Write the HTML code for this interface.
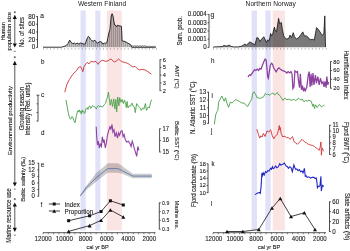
<!DOCTYPE html>
<html><head><meta charset="utf-8"><style>
html,body{margin:0;padding:0;background:#fff;width:350px;height:251px;overflow:hidden}
svg{display:block;will-change:transform}
.ttl text{stroke-width:0}
text{font-family:"Liberation Sans", sans-serif;stroke:#1a1a1a;stroke-width:0.1px}
</style></head><body>
<svg width="350" height="251" viewBox="0 0 350 251">
<rect width="350" height="251" fill="#fff"/>
<rect x="80.5" y="10.5" width="5.3" height="220" fill="#e1e1f8"/>
<rect x="95.3" y="10.5" width="5.1" height="220" fill="#e1e1f8"/>
<rect x="106.8" y="10.5" width="15.0" height="220" fill="#fbe4e4"/>
<rect x="251.6" y="10.5" width="5.4" height="220" fill="#e1e1f8"/>
<rect x="265.3" y="10.5" width="5.5" height="220" fill="#e1e1f8"/>
<rect x="272.7" y="10.5" width="12.1" height="220" fill="#fbe4e4"/>
<g class="ttl">
<text transform="translate(102 6) scale(0.9 1)" font-size="7.39" text-anchor="middle" fill="#1a1a1a">Western Finland</text>
<text transform="translate(270.7 6) scale(0.9 1)" font-size="7.39" text-anchor="middle" fill="#1a1a1a">Northern Norway</text>
</g>
<line x1="37.5" y1="16.2" x2="37.5" y2="47.699999999999996" stroke="#222" stroke-width="0.8"/>
<line x1="36.0" y1="16.5" x2="37.5" y2="16.5" stroke="#222" stroke-width="0.7"/>
<text transform="translate(35.3 18.5) scale(0.9 1)" font-size="7.06" text-anchor="end" fill="#1a1a1a">80</text>
<line x1="36.0" y1="24.225" x2="37.5" y2="24.225" stroke="#222" stroke-width="0.7"/>
<text transform="translate(35.3 26.225) scale(0.9 1)" font-size="7.06" text-anchor="end" fill="#1a1a1a">60</text>
<line x1="36.0" y1="31.95" x2="37.5" y2="31.95" stroke="#222" stroke-width="0.7"/>
<text transform="translate(35.3 33.95) scale(0.9 1)" font-size="7.06" text-anchor="end" fill="#1a1a1a">40</text>
<line x1="36.0" y1="39.675" x2="37.5" y2="39.675" stroke="#222" stroke-width="0.7"/>
<text transform="translate(35.3 41.675) scale(0.9 1)" font-size="7.06" text-anchor="end" fill="#1a1a1a">20</text>
<line x1="36.0" y1="47.4" x2="37.5" y2="47.4" stroke="#222" stroke-width="0.7"/>
<text transform="translate(35.3 49.4) scale(0.9 1)" font-size="7.06" text-anchor="end" fill="#1a1a1a">0</text>
<text transform="translate(40.2 18) scale(0.9 1)" font-size="7.39" text-anchor="start" fill="#1a1a1a">a</text>
<clipPath id="ha"><polygon points="43.0,47.2 61.4,47.2 63.6,46.5 65.7,45.9 67.9,43.7 69.7,40.1 71.1,42.3 72.9,43.7 74.3,43.0 75.7,44.0 77.1,43.0 78.9,44.0 80.7,43.0 82.9,43.7 84.0,44.2 85.3,43.8 87.1,38.5 88.4,36.3 89.3,37.2 90.6,39.4 91.9,40.7 93.2,41.2 95.0,40.3 96.3,42.0 97.6,43.4 98.9,42.0 100.7,41.6 102.0,42.5 102.9,44.2 104.2,42.9 105.5,43.4 106.8,42.9 107.7,38.5 109.0,32.4 109.9,29.8 111.2,16.0 112.1,13.7 113.0,16.0 114.0,22.0 114.7,25.0 116.0,25.5 116.8,26.8 117.6,25.3 119.5,25.8 121.4,26.3 121.8,33.0 122.1,41.0 124.0,41.2 126.0,42.0 128.0,43.2 130.0,44.3 131.0,45.2 132.0,47.2 155.5,47.2 155.5,47.3 43.0,47.3"/></clipPath>
<polygon points="43.0,47.2 61.4,47.2 63.6,46.5 65.7,45.9 67.9,43.7 69.7,40.1 71.1,42.3 72.9,43.7 74.3,43.0 75.7,44.0 77.1,43.0 78.9,44.0 80.7,43.0 82.9,43.7 84.0,44.2 85.3,43.8 87.1,38.5 88.4,36.3 89.3,37.2 90.6,39.4 91.9,40.7 93.2,41.2 95.0,40.3 96.3,42.0 97.6,43.4 98.9,42.0 100.7,41.6 102.0,42.5 102.9,44.2 104.2,42.9 105.5,43.4 106.8,42.9 107.7,38.5 109.0,32.4 109.9,29.8 111.2,16.0 112.1,13.7 113.0,16.0 114.0,22.0 114.7,25.0 116.0,25.5 116.8,26.8 117.6,25.3 119.5,25.8 121.4,26.3 121.8,33.0 122.1,41.0 124.0,41.2 126.0,42.0 128.0,43.2 130.0,44.3 131.0,45.2 132.0,47.2 155.5,47.2 155.5,47.3 43.0,47.3" fill="#000" fill-opacity="0.2"/>
<line x1="43.3" y1="10" x2="43.3" y2="47.3" stroke="#000" stroke-opacity="0.6" stroke-width="0.45" clip-path="url(#ha)"/>
<line x1="45.3" y1="10" x2="45.3" y2="47.3" stroke="#000" stroke-opacity="0.6" stroke-width="0.45" clip-path="url(#ha)"/>
<line x1="47.3" y1="10" x2="47.3" y2="47.3" stroke="#000" stroke-opacity="0.6" stroke-width="0.45" clip-path="url(#ha)"/>
<line x1="49.3" y1="10" x2="49.3" y2="47.3" stroke="#000" stroke-opacity="0.6" stroke-width="0.45" clip-path="url(#ha)"/>
<line x1="51.3" y1="10" x2="51.3" y2="47.3" stroke="#000" stroke-opacity="0.6" stroke-width="0.45" clip-path="url(#ha)"/>
<line x1="53.3" y1="10" x2="53.3" y2="47.3" stroke="#000" stroke-opacity="0.6" stroke-width="0.45" clip-path="url(#ha)"/>
<line x1="55.3" y1="10" x2="55.3" y2="47.3" stroke="#000" stroke-opacity="0.6" stroke-width="0.45" clip-path="url(#ha)"/>
<line x1="57.3" y1="10" x2="57.3" y2="47.3" stroke="#000" stroke-opacity="0.6" stroke-width="0.45" clip-path="url(#ha)"/>
<line x1="59.3" y1="10" x2="59.3" y2="47.3" stroke="#000" stroke-opacity="0.6" stroke-width="0.45" clip-path="url(#ha)"/>
<line x1="61.3" y1="10" x2="61.3" y2="47.3" stroke="#000" stroke-opacity="0.6" stroke-width="0.45" clip-path="url(#ha)"/>
<line x1="63.3" y1="10" x2="63.3" y2="47.3" stroke="#000" stroke-opacity="0.6" stroke-width="0.45" clip-path="url(#ha)"/>
<line x1="65.3" y1="10" x2="65.3" y2="47.3" stroke="#000" stroke-opacity="0.6" stroke-width="0.45" clip-path="url(#ha)"/>
<line x1="67.3" y1="10" x2="67.3" y2="47.3" stroke="#000" stroke-opacity="0.6" stroke-width="0.45" clip-path="url(#ha)"/>
<line x1="69.3" y1="10" x2="69.3" y2="47.3" stroke="#000" stroke-opacity="0.6" stroke-width="0.45" clip-path="url(#ha)"/>
<line x1="71.3" y1="10" x2="71.3" y2="47.3" stroke="#000" stroke-opacity="0.6" stroke-width="0.45" clip-path="url(#ha)"/>
<line x1="73.3" y1="10" x2="73.3" y2="47.3" stroke="#000" stroke-opacity="0.6" stroke-width="0.45" clip-path="url(#ha)"/>
<line x1="75.3" y1="10" x2="75.3" y2="47.3" stroke="#000" stroke-opacity="0.6" stroke-width="0.45" clip-path="url(#ha)"/>
<line x1="77.3" y1="10" x2="77.3" y2="47.3" stroke="#000" stroke-opacity="0.6" stroke-width="0.45" clip-path="url(#ha)"/>
<line x1="79.3" y1="10" x2="79.3" y2="47.3" stroke="#000" stroke-opacity="0.6" stroke-width="0.45" clip-path="url(#ha)"/>
<line x1="81.3" y1="10" x2="81.3" y2="47.3" stroke="#000" stroke-opacity="0.6" stroke-width="0.45" clip-path="url(#ha)"/>
<line x1="83.3" y1="10" x2="83.3" y2="47.3" stroke="#000" stroke-opacity="0.6" stroke-width="0.45" clip-path="url(#ha)"/>
<line x1="85.3" y1="10" x2="85.3" y2="47.3" stroke="#000" stroke-opacity="0.6" stroke-width="0.45" clip-path="url(#ha)"/>
<line x1="87.3" y1="10" x2="87.3" y2="47.3" stroke="#000" stroke-opacity="0.6" stroke-width="0.45" clip-path="url(#ha)"/>
<line x1="89.3" y1="10" x2="89.3" y2="47.3" stroke="#000" stroke-opacity="0.6" stroke-width="0.45" clip-path="url(#ha)"/>
<line x1="91.3" y1="10" x2="91.3" y2="47.3" stroke="#000" stroke-opacity="0.6" stroke-width="0.45" clip-path="url(#ha)"/>
<line x1="93.3" y1="10" x2="93.3" y2="47.3" stroke="#000" stroke-opacity="0.6" stroke-width="0.45" clip-path="url(#ha)"/>
<line x1="95.3" y1="10" x2="95.3" y2="47.3" stroke="#000" stroke-opacity="0.6" stroke-width="0.45" clip-path="url(#ha)"/>
<line x1="97.3" y1="10" x2="97.3" y2="47.3" stroke="#000" stroke-opacity="0.6" stroke-width="0.45" clip-path="url(#ha)"/>
<line x1="99.3" y1="10" x2="99.3" y2="47.3" stroke="#000" stroke-opacity="0.6" stroke-width="0.45" clip-path="url(#ha)"/>
<line x1="101.3" y1="10" x2="101.3" y2="47.3" stroke="#000" stroke-opacity="0.6" stroke-width="0.45" clip-path="url(#ha)"/>
<line x1="103.3" y1="10" x2="103.3" y2="47.3" stroke="#000" stroke-opacity="0.6" stroke-width="0.45" clip-path="url(#ha)"/>
<line x1="105.3" y1="10" x2="105.3" y2="47.3" stroke="#000" stroke-opacity="0.6" stroke-width="0.45" clip-path="url(#ha)"/>
<line x1="107.3" y1="10" x2="107.3" y2="47.3" stroke="#000" stroke-opacity="0.6" stroke-width="0.45" clip-path="url(#ha)"/>
<line x1="109.3" y1="10" x2="109.3" y2="47.3" stroke="#000" stroke-opacity="0.6" stroke-width="0.45" clip-path="url(#ha)"/>
<line x1="111.3" y1="10" x2="111.3" y2="47.3" stroke="#000" stroke-opacity="0.6" stroke-width="0.45" clip-path="url(#ha)"/>
<line x1="113.3" y1="10" x2="113.3" y2="47.3" stroke="#000" stroke-opacity="0.6" stroke-width="0.45" clip-path="url(#ha)"/>
<line x1="115.3" y1="10" x2="115.3" y2="47.3" stroke="#000" stroke-opacity="0.6" stroke-width="0.45" clip-path="url(#ha)"/>
<line x1="117.3" y1="10" x2="117.3" y2="47.3" stroke="#000" stroke-opacity="0.6" stroke-width="0.45" clip-path="url(#ha)"/>
<line x1="119.3" y1="10" x2="119.3" y2="47.3" stroke="#000" stroke-opacity="0.6" stroke-width="0.45" clip-path="url(#ha)"/>
<line x1="121.3" y1="10" x2="121.3" y2="47.3" stroke="#000" stroke-opacity="0.6" stroke-width="0.45" clip-path="url(#ha)"/>
<line x1="123.3" y1="10" x2="123.3" y2="47.3" stroke="#000" stroke-opacity="0.6" stroke-width="0.45" clip-path="url(#ha)"/>
<line x1="125.3" y1="10" x2="125.3" y2="47.3" stroke="#000" stroke-opacity="0.6" stroke-width="0.45" clip-path="url(#ha)"/>
<line x1="127.3" y1="10" x2="127.3" y2="47.3" stroke="#000" stroke-opacity="0.6" stroke-width="0.45" clip-path="url(#ha)"/>
<line x1="129.3" y1="10" x2="129.3" y2="47.3" stroke="#000" stroke-opacity="0.6" stroke-width="0.45" clip-path="url(#ha)"/>
<line x1="131.3" y1="10" x2="131.3" y2="47.3" stroke="#000" stroke-opacity="0.6" stroke-width="0.45" clip-path="url(#ha)"/>
<line x1="133.3" y1="10" x2="133.3" y2="47.3" stroke="#000" stroke-opacity="0.6" stroke-width="0.45" clip-path="url(#ha)"/>
<line x1="135.3" y1="10" x2="135.3" y2="47.3" stroke="#000" stroke-opacity="0.6" stroke-width="0.45" clip-path="url(#ha)"/>
<line x1="137.3" y1="10" x2="137.3" y2="47.3" stroke="#000" stroke-opacity="0.6" stroke-width="0.45" clip-path="url(#ha)"/>
<line x1="139.3" y1="10" x2="139.3" y2="47.3" stroke="#000" stroke-opacity="0.6" stroke-width="0.45" clip-path="url(#ha)"/>
<line x1="141.3" y1="10" x2="141.3" y2="47.3" stroke="#000" stroke-opacity="0.6" stroke-width="0.45" clip-path="url(#ha)"/>
<line x1="143.3" y1="10" x2="143.3" y2="47.3" stroke="#000" stroke-opacity="0.6" stroke-width="0.45" clip-path="url(#ha)"/>
<line x1="145.3" y1="10" x2="145.3" y2="47.3" stroke="#000" stroke-opacity="0.6" stroke-width="0.45" clip-path="url(#ha)"/>
<line x1="147.3" y1="10" x2="147.3" y2="47.3" stroke="#000" stroke-opacity="0.6" stroke-width="0.45" clip-path="url(#ha)"/>
<line x1="149.3" y1="10" x2="149.3" y2="47.3" stroke="#000" stroke-opacity="0.6" stroke-width="0.45" clip-path="url(#ha)"/>
<line x1="151.3" y1="10" x2="151.3" y2="47.3" stroke="#000" stroke-opacity="0.6" stroke-width="0.45" clip-path="url(#ha)"/>
<line x1="153.3" y1="10" x2="153.3" y2="47.3" stroke="#000" stroke-opacity="0.6" stroke-width="0.45" clip-path="url(#ha)"/>
<line x1="155.3" y1="10" x2="155.3" y2="47.3" stroke="#000" stroke-opacity="0.6" stroke-width="0.45" clip-path="url(#ha)"/>
<polyline points="43.0,47.2 61.4,47.2 63.6,46.5 65.7,45.9 67.9,43.7 69.7,40.1 71.1,42.3 72.9,43.7 74.3,43.0 75.7,44.0 77.1,43.0 78.9,44.0 80.7,43.0 82.9,43.7 84.0,44.2 85.3,43.8 87.1,38.5 88.4,36.3 89.3,37.2 90.6,39.4 91.9,40.7 93.2,41.2 95.0,40.3 96.3,42.0 97.6,43.4 98.9,42.0 100.7,41.6 102.0,42.5 102.9,44.2 104.2,42.9 105.5,43.4 106.8,42.9 107.7,38.5 109.0,32.4 109.9,29.8 111.2,16.0 112.1,13.7 113.0,16.0 114.0,22.0 114.7,25.0 116.0,25.5 116.8,26.8 117.6,25.3 119.5,25.8 121.4,26.3 121.8,33.0 122.1,41.0 124.0,41.2 126.0,42.0 128.0,43.2 130.0,44.3 131.0,45.2 132.0,47.2 155.5,47.2" fill="none" stroke="#111" stroke-width="0.85"/>
<rect x="131.20" y="45.50" width="2.1" height="2.3" rx="0.9" fill="none" stroke="#444" stroke-width="0.5"/>
<rect x="133.70" y="45.50" width="2.1" height="2.3" rx="0.9" fill="none" stroke="#444" stroke-width="0.5"/>
<rect x="136.20" y="45.50" width="2.1" height="2.3" rx="0.9" fill="none" stroke="#444" stroke-width="0.5"/>
<rect x="138.70" y="45.50" width="2.1" height="2.3" rx="0.9" fill="none" stroke="#444" stroke-width="0.5"/>
<rect x="141.20" y="45.50" width="2.1" height="2.3" rx="0.9" fill="none" stroke="#444" stroke-width="0.5"/>
<rect x="143.70" y="45.50" width="2.1" height="2.3" rx="0.9" fill="none" stroke="#444" stroke-width="0.5"/>
<rect x="146.20" y="46.20" width="2.1" height="1.6" rx="0.9" fill="none" stroke="#444" stroke-width="0.5"/>
<rect x="148.70" y="46.20" width="2.1" height="1.6" rx="0.9" fill="none" stroke="#444" stroke-width="0.5"/>
<rect x="151.20" y="46.20" width="2.1" height="1.6" rx="0.9" fill="none" stroke="#444" stroke-width="0.5"/>
<rect x="153.70" y="46.20" width="2.1" height="1.6" rx="0.9" fill="none" stroke="#444" stroke-width="0.5"/>
<line x1="43.50" y1="48.2" x2="43.50" y2="49.5" stroke="#555" stroke-width="0.5"/>
<line x1="47.03" y1="48.2" x2="47.03" y2="49.5" stroke="#555" stroke-width="0.5"/>
<line x1="50.56" y1="48.2" x2="50.56" y2="49.5" stroke="#555" stroke-width="0.5"/>
<line x1="54.09" y1="48.2" x2="54.09" y2="49.5" stroke="#555" stroke-width="0.5"/>
<line x1="57.62" y1="48.2" x2="57.62" y2="49.5" stroke="#555" stroke-width="0.5"/>
<line x1="61.15" y1="48.2" x2="61.15" y2="49.5" stroke="#555" stroke-width="0.5"/>
<line x1="64.68" y1="48.2" x2="64.68" y2="49.5" stroke="#555" stroke-width="0.5"/>
<line x1="68.21" y1="48.2" x2="68.21" y2="49.5" stroke="#555" stroke-width="0.5"/>
<line x1="71.74" y1="48.2" x2="71.74" y2="49.5" stroke="#555" stroke-width="0.5"/>
<line x1="75.27" y1="48.2" x2="75.27" y2="49.5" stroke="#555" stroke-width="0.5"/>
<line x1="78.80" y1="48.2" x2="78.80" y2="49.5" stroke="#555" stroke-width="0.5"/>
<line x1="82.33" y1="48.2" x2="82.33" y2="49.5" stroke="#555" stroke-width="0.5"/>
<line x1="85.86" y1="48.2" x2="85.86" y2="49.5" stroke="#555" stroke-width="0.5"/>
<line x1="89.39" y1="48.2" x2="89.39" y2="49.5" stroke="#555" stroke-width="0.5"/>
<line x1="92.92" y1="48.2" x2="92.92" y2="49.5" stroke="#555" stroke-width="0.5"/>
<line x1="96.45" y1="48.2" x2="96.45" y2="49.5" stroke="#555" stroke-width="0.5"/>
<line x1="99.98" y1="48.2" x2="99.98" y2="49.5" stroke="#555" stroke-width="0.5"/>
<line x1="103.51" y1="48.2" x2="103.51" y2="49.5" stroke="#555" stroke-width="0.5"/>
<line x1="107.04" y1="48.2" x2="107.04" y2="49.5" stroke="#555" stroke-width="0.5"/>
<line x1="110.57" y1="48.2" x2="110.57" y2="49.5" stroke="#555" stroke-width="0.5"/>
<line x1="114.10" y1="48.2" x2="114.10" y2="49.5" stroke="#555" stroke-width="0.5"/>
<line x1="117.63" y1="48.2" x2="117.63" y2="49.5" stroke="#555" stroke-width="0.5"/>
<line x1="121.16" y1="48.2" x2="121.16" y2="49.5" stroke="#555" stroke-width="0.5"/>
<line x1="124.69" y1="48.2" x2="124.69" y2="49.5" stroke="#555" stroke-width="0.5"/>
<line x1="128.22" y1="48.2" x2="128.22" y2="49.5" stroke="#555" stroke-width="0.5"/>
<line x1="131.75" y1="48.2" x2="131.75" y2="49.5" stroke="#555" stroke-width="0.5"/>
<line x1="135.28" y1="48.2" x2="135.28" y2="49.5" stroke="#555" stroke-width="0.5"/>
<line x1="138.81" y1="48.2" x2="138.81" y2="49.5" stroke="#555" stroke-width="0.5"/>
<line x1="142.34" y1="48.2" x2="142.34" y2="49.5" stroke="#555" stroke-width="0.5"/>
<line x1="145.87" y1="48.2" x2="145.87" y2="49.5" stroke="#555" stroke-width="0.5"/>
<line x1="149.40" y1="48.2" x2="149.40" y2="49.5" stroke="#555" stroke-width="0.5"/>
<line x1="152.93" y1="48.2" x2="152.93" y2="49.5" stroke="#555" stroke-width="0.5"/>
<line x1="156.46" y1="48.2" x2="156.46" y2="49.5" stroke="#555" stroke-width="0.5"/>
<line x1="160" y1="59.300000000000004" x2="160" y2="91.0" stroke="#222" stroke-width="0.8"/>
<line x1="160" y1="59.6" x2="161.5" y2="59.6" stroke="#222" stroke-width="0.7"/>
<text transform="translate(162.8 61.6) scale(0.9 1)" font-size="6.27" text-anchor="start" fill="#1a1a1a">6</text>
<line x1="160" y1="67.375" x2="161.5" y2="67.375" stroke="#222" stroke-width="0.7"/>
<text transform="translate(162.8 69.375) scale(0.9 1)" font-size="6.27" text-anchor="start" fill="#1a1a1a">5</text>
<line x1="160" y1="75.15" x2="161.5" y2="75.15" stroke="#222" stroke-width="0.7"/>
<text transform="translate(162.8 77.15) scale(0.9 1)" font-size="6.27" text-anchor="start" fill="#1a1a1a">4</text>
<line x1="160" y1="82.92500000000001" x2="161.5" y2="82.92500000000001" stroke="#222" stroke-width="0.7"/>
<text transform="translate(162.8 84.92500000000001) scale(0.9 1)" font-size="6.27" text-anchor="start" fill="#1a1a1a">3</text>
<line x1="160" y1="90.7" x2="161.5" y2="90.7" stroke="#222" stroke-width="0.7"/>
<text transform="translate(162.8 92.7) scale(0.9 1)" font-size="6.27" text-anchor="start" fill="#1a1a1a">2</text>
<text transform="translate(41 64) scale(0.9 1)" font-size="6.94" text-anchor="start" fill="#1a1a1a">b</text>
<polyline points="64.8,92.2 66.8,84.5 69.4,79.4 72.8,74.3 76.3,70.8 78.8,67.1 80.5,66.6 81.9,69.1 82.8,71.7 84.0,66.6 85.7,64.0 87.4,62.3 88.8,64.0 90.8,61.4 93.4,61.9 96.0,61.4 98.0,64.3 100.2,61.4 102.8,60.2 105.0,61.3 107.9,60.9 111.0,58.9 112.9,60.9 114.7,62.0 116.4,60.9 118.6,59.1 120.7,60.9 122.9,62.0 125.7,62.7 127.9,63.4 130.7,65.6 132.9,67.0 135.0,66.3 137.1,68.4 139.3,69.9 142.1,69.4 145.0,69.9 147.9,71.7 151.4,74.1" fill="none" stroke="#cf3d3d" stroke-width="0.95"/>
<text transform="translate(175.3 65.4) rotate(90) scale(1 1.06)" font-size="5.60" text-anchor="start" fill="#1a1a1a">AMT (°C)</text>
<line x1="38" y1="94.9" x2="38" y2="121.39999999999999" stroke="#222" stroke-width="0.8"/>
<line x1="36.5" y1="95.2" x2="38" y2="95.2" stroke="#222" stroke-width="0.7"/>
<line x1="36.5" y1="103.83333333333333" x2="38" y2="103.83333333333333" stroke="#222" stroke-width="0.7"/>
<line x1="36.5" y1="112.46666666666667" x2="38" y2="112.46666666666667" stroke="#222" stroke-width="0.7"/>
<line x1="36.5" y1="121.1" x2="38" y2="121.1" stroke="#222" stroke-width="0.7"/>
<line x1="38" y1="95.2" x2="39.5" y2="95.2" stroke="#222" stroke-width="0.6"/>
<text transform="translate(40.9 97) scale(0.9 1)" font-size="7.39" text-anchor="start" fill="#1a1a1a">c</text>
<polyline points="66.0,99.9 67.1,106.3 68.3,112.7 69.3,117.0 70.3,119.1 71.4,118.4 72.1,116.5 72.9,117.7 74.0,120.6 75.0,122.7 76.4,115.6 77.9,110.6 78.6,112.0 79.3,109.9 80.2,112.5 80.7,111.3 81.4,114.1 82.1,109.9 82.8,112.0 83.6,111.3 84.3,113.5 85.0,112.7 85.7,109.1 87.1,107.7 88.0,109.5 88.6,108.4 89.3,106.0 90.0,106.3 90.7,108.5 91.4,107.7 92.5,105.5 93.6,106.3 95.0,107.0 96.4,109.1 97.4,106.3 98.6,105.6 99.6,106.8 100.0,105.9 102.4,107.1 104.2,104.7 105.4,103.5 106.6,99.4 107.4,97.6 108.4,92.2 109.3,98.8 110.2,105.3 111.4,99.4 112.5,106.5 113.7,98.8 114.9,108.9 115.8,99.4 116.7,111.9 117.7,97.0 118.9,105.9 119.7,97.6 120.9,102.3 122.1,99.4 123.3,103.5 124.5,99.9 125.7,104.7 126.3,107.5 127.1,101.4 128.0,107.9 129.3,105.7 130.6,106.1 130.6,106.1 131.9,103.1 133.1,106.1 134.4,107.0 135.3,112.6 136.6,103.6 138.3,106.1 139.6,107.4 141.3,110.4 142.6,107.9 143.9,109.1 145.4,103.6 146.4,110.4 148.1,107.0 149.4,107.9 150.7,101.9 151.6,99.7" fill="none" stroke="#46a046" stroke-width="0.9"/>
<line x1="159.6" y1="128.5" x2="159.6" y2="152.3" stroke="#222" stroke-width="0.8"/>
<line x1="159.6" y1="128.8" x2="161.1" y2="128.8" stroke="#222" stroke-width="0.7"/>
<text transform="translate(162.4 130.8) scale(0.9 1)" font-size="6.50" text-anchor="start" fill="#1a1a1a">17</text>
<line x1="159.6" y1="140.4" x2="161.1" y2="140.4" stroke="#222" stroke-width="0.7"/>
<text transform="translate(162.4 142.4) scale(0.9 1)" font-size="6.50" text-anchor="start" fill="#1a1a1a">16</text>
<line x1="159.6" y1="152.0" x2="161.1" y2="152.0" stroke="#222" stroke-width="0.7"/>
<text transform="translate(162.4 154.0) scale(0.9 1)" font-size="6.50" text-anchor="start" fill="#1a1a1a">15</text>
<text transform="translate(41 135) scale(0.9 1)" font-size="6.94" text-anchor="start" fill="#1a1a1a">d</text>
<polyline points="96.2,126.8 96.8,138.2 97.5,145.0 98.4,141.2 99.3,148.0 100.3,144.2 101.4,146.5 102.3,136.7 103.4,142.7 104.1,139.7 105.3,148.0 106.4,142.7 107.5,135.2 108.7,130.6 109.9,126.8 110.9,129.1 112.0,124.5 112.9,132.1 114.0,129.8 115.0,136.7 116.2,132.9 117.5,138.2 118.5,132.9 119.6,135.2 120.8,131.4 122.0,130.6 123.1,136.7 124.1,134.4 125.3,139.7 126.8,142.0 128.4,141.2 129.9,143.5 131.1,146.5 132.2,141.2 133.2,144.2 134.4,148.8 135.6,152.6 136.7,156.4 137.8,146.5 139.0,150.3" fill="none" stroke="#9042a2" stroke-width="1.1"/>
<text transform="translate(174.8 121) rotate(90) scale(1 1.06)" font-size="5.90" text-anchor="start" fill="#1a1a1a">Baltic SST (°C)</text>
<line x1="38.7" y1="162.89999999999998" x2="38.7" y2="196.5" stroke="#222" stroke-width="0.8"/>
<line x1="37.2" y1="163.2" x2="38.7" y2="163.2" stroke="#222" stroke-width="0.7"/>
<text transform="translate(34.900000000000006 165.2) scale(0.9 1)" font-size="6.72" text-anchor="end" fill="#1a1a1a">15</text>
<line x1="37.2" y1="169.79999999999998" x2="38.7" y2="169.79999999999998" stroke="#222" stroke-width="0.7"/>
<text transform="translate(34.900000000000006 171.79999999999998) scale(0.9 1)" font-size="6.72" text-anchor="end" fill="#1a1a1a">12</text>
<line x1="37.2" y1="176.39999999999998" x2="38.7" y2="176.39999999999998" stroke="#222" stroke-width="0.7"/>
<text transform="translate(34.900000000000006 178.39999999999998) scale(0.9 1)" font-size="6.72" text-anchor="end" fill="#1a1a1a">9</text>
<line x1="37.2" y1="183.0" x2="38.7" y2="183.0" stroke="#222" stroke-width="0.7"/>
<text transform="translate(34.900000000000006 185.0) scale(0.9 1)" font-size="6.72" text-anchor="end" fill="#1a1a1a">6</text>
<line x1="37.2" y1="189.6" x2="38.7" y2="189.6" stroke="#222" stroke-width="0.7"/>
<text transform="translate(34.900000000000006 191.6) scale(0.9 1)" font-size="6.72" text-anchor="end" fill="#1a1a1a">3</text>
<line x1="37.2" y1="196.2" x2="38.7" y2="196.2" stroke="#222" stroke-width="0.7"/>
<text transform="translate(34.900000000000006 198.2) scale(0.9 1)" font-size="6.72" text-anchor="end" fill="#1a1a1a">0</text>
<text transform="translate(40.8 166.5) scale(0.9 1)" font-size="7.39" text-anchor="start" fill="#1a1a1a">e</text>
<polygon points="80.3,195.5 86.0,186.3 96.3,172.9 102.0,168.3 107.7,163.2 118.0,163.2 121.4,165.5 132.9,173.8 151.4,173.8 152.0,175.0 152.0,177.8 151.4,178.3 132.9,178.3 121.4,173.5 118.0,172.8 107.7,172.8 96.3,181.5 86.0,190.5 80.3,196.8" fill="#000" fill-opacity="0.2"/>
<polyline points="80.3,195.7 86.0,187.9 96.3,177.6 107.7,168.6 118.0,168.6 132.9,176.1 151.5,176.1" fill="none" stroke="#5676a6" stroke-width="0.85"/>
<line x1="159.3" y1="202.5" x2="159.3" y2="229.5" stroke="#222" stroke-width="0.8"/>
<line x1="159.3" y1="202.8" x2="160.8" y2="202.8" stroke="#222" stroke-width="0.7"/>
<text transform="translate(162.10000000000002 204.8) scale(0.9 1)" font-size="5.71" text-anchor="start" fill="#1a1a1a">0.9</text>
<line x1="159.3" y1="211.6" x2="160.8" y2="211.6" stroke="#222" stroke-width="0.7"/>
<text transform="translate(162.10000000000002 213.6) scale(0.9 1)" font-size="5.71" text-anchor="start" fill="#1a1a1a">0.7</text>
<line x1="159.3" y1="220.4" x2="160.8" y2="220.4" stroke="#222" stroke-width="0.7"/>
<text transform="translate(162.10000000000002 222.4) scale(0.9 1)" font-size="5.71" text-anchor="start" fill="#1a1a1a">0.5</text>
<line x1="159.3" y1="229.2" x2="160.8" y2="229.2" stroke="#222" stroke-width="0.7"/>
<text transform="translate(162.10000000000002 231.2) scale(0.9 1)" font-size="5.71" text-anchor="start" fill="#1a1a1a">0.3</text>
<text transform="translate(40.6 207) scale(0.9 1)" font-size="6.94" text-anchor="start" fill="#1a1a1a">f</text>
<polyline points="68.6,220.7 89.6,215.8 101.1,211.5 110.4,200.8 123.3,205.0" fill="none" stroke="#111" stroke-width="0.8"/>
<polyline points="68.6,231.4 89.6,225.6 101.1,220.3 110.4,210.0 123.3,217.0" fill="none" stroke="#111" stroke-width="0.8"/>
<rect x="67.1" y="219.2" width="3.0" height="3.0" fill="#111"/>
<rect x="88.1" y="214.3" width="3.0" height="3.0" fill="#111"/>
<rect x="99.6" y="210.0" width="3.0" height="3.0" fill="#111"/>
<rect x="108.9" y="199.3" width="3.0" height="3.0" fill="#111"/>
<rect x="121.8" y="203.5" width="3.0" height="3.0" fill="#111"/>
<polygon points="66.6,233.2 70.6,233.2 68.6,229.6" fill="#111"/>
<polygon points="87.6,227.4 91.6,227.4 89.6,223.8" fill="#111"/>
<polygon points="99.1,222.1 103.1,222.1 101.1,218.5" fill="#111"/>
<polygon points="108.4,211.8 112.4,211.8 110.4,208.2" fill="#111"/>
<polygon points="121.3,218.8 125.3,218.8 123.3,215.2" fill="#111"/>
<line x1="48.9" y1="204" x2="60" y2="204" stroke="#111" stroke-width="0.8"/>
<rect x="52.7" y="202.5" width="3.0" height="3.0" fill="#111"/>
<line x1="48.9" y1="211" x2="60" y2="211" stroke="#111" stroke-width="0.8"/>
<polygon points="52.2,212.8 56.2,212.8 54.2,209.2" fill="#111"/>
<text transform="translate(64.5 207) scale(0.9 1)" font-size="6.94" text-anchor="start" fill="#1a1a1a">Index</text>
<text transform="translate(64.5 214) scale(0.9 1)" font-size="6.94" text-anchor="start" fill="#1a1a1a">Proportion</text>
<text transform="translate(174.6 200.6) rotate(90) scale(1 1.06)" font-size="5.75" text-anchor="start" fill="#1a1a1a">Marine res.</text>
<line x1="43" y1="232.7" x2="155.5" y2="232.7" stroke="#222" stroke-width="0.75"/>
<line x1="43.0" y1="232.7" x2="43.0" y2="234.3" stroke="#222" stroke-width="0.55"/>
<line x1="48.3" y1="232.7" x2="48.3" y2="234.3" stroke="#222" stroke-width="0.55"/>
<line x1="53.6" y1="232.7" x2="53.6" y2="234.3" stroke="#222" stroke-width="0.55"/>
<line x1="58.9" y1="232.7" x2="58.9" y2="234.3" stroke="#222" stroke-width="0.55"/>
<line x1="64.2" y1="232.7" x2="64.2" y2="234.3" stroke="#222" stroke-width="0.55"/>
<line x1="69.5" y1="232.7" x2="69.5" y2="234.3" stroke="#222" stroke-width="0.55"/>
<line x1="74.9" y1="232.7" x2="74.9" y2="234.3" stroke="#222" stroke-width="0.55"/>
<line x1="80.2" y1="232.7" x2="80.2" y2="234.3" stroke="#222" stroke-width="0.55"/>
<line x1="85.5" y1="232.7" x2="85.5" y2="234.3" stroke="#222" stroke-width="0.55"/>
<line x1="90.8" y1="232.7" x2="90.8" y2="234.3" stroke="#222" stroke-width="0.55"/>
<line x1="96.1" y1="232.7" x2="96.1" y2="234.3" stroke="#222" stroke-width="0.55"/>
<line x1="101.4" y1="232.7" x2="101.4" y2="234.3" stroke="#222" stroke-width="0.55"/>
<line x1="106.7" y1="232.7" x2="106.7" y2="234.3" stroke="#222" stroke-width="0.55"/>
<line x1="112.0" y1="232.7" x2="112.0" y2="234.3" stroke="#222" stroke-width="0.55"/>
<line x1="117.3" y1="232.7" x2="117.3" y2="234.3" stroke="#222" stroke-width="0.55"/>
<line x1="122.6" y1="232.7" x2="122.6" y2="234.3" stroke="#222" stroke-width="0.55"/>
<line x1="128.0" y1="232.7" x2="128.0" y2="234.3" stroke="#222" stroke-width="0.55"/>
<line x1="133.3" y1="232.7" x2="133.3" y2="234.3" stroke="#222" stroke-width="0.55"/>
<line x1="138.6" y1="232.7" x2="138.6" y2="234.3" stroke="#222" stroke-width="0.55"/>
<line x1="143.9" y1="232.7" x2="143.9" y2="234.3" stroke="#222" stroke-width="0.55"/>
<line x1="149.2" y1="232.7" x2="149.2" y2="234.3" stroke="#222" stroke-width="0.55"/>
<line x1="154.5" y1="232.7" x2="154.5" y2="234.3" stroke="#222" stroke-width="0.55"/>
<text transform="translate(43.1 241.2) scale(0.9 1)" font-size="6.83" text-anchor="middle" fill="#1a1a1a">12000</text>
<text transform="translate(64.34 241.2) scale(0.9 1)" font-size="6.83" text-anchor="middle" fill="#1a1a1a">10000</text>
<text transform="translate(85.58 241.2) scale(0.9 1)" font-size="6.83" text-anchor="middle" fill="#1a1a1a">8000</text>
<text transform="translate(106.82 241.2) scale(0.9 1)" font-size="6.83" text-anchor="middle" fill="#1a1a1a">6000</text>
<text transform="translate(128.06 241.2) scale(0.9 1)" font-size="6.83" text-anchor="middle" fill="#1a1a1a">4000</text>
<text transform="translate(149.29999999999998 241.2) scale(0.9 1)" font-size="6.83" text-anchor="middle" fill="#1a1a1a">2000</text>
<text transform="translate(97.6 249.3) scale(0.9 1)" font-size="6.16" text-anchor="middle" fill="#1a1a1a">cal yr BP</text>
<line x1="213" y1="232.7" x2="326" y2="232.7" stroke="#222" stroke-width="0.75"/>
<line x1="213.0" y1="232.7" x2="213.0" y2="234.3" stroke="#222" stroke-width="0.55"/>
<line x1="218.3" y1="232.7" x2="218.3" y2="234.3" stroke="#222" stroke-width="0.55"/>
<line x1="223.6" y1="232.7" x2="223.6" y2="234.3" stroke="#222" stroke-width="0.55"/>
<line x1="228.9" y1="232.7" x2="228.9" y2="234.3" stroke="#222" stroke-width="0.55"/>
<line x1="234.2" y1="232.7" x2="234.2" y2="234.3" stroke="#222" stroke-width="0.55"/>
<line x1="239.6" y1="232.7" x2="239.6" y2="234.3" stroke="#222" stroke-width="0.55"/>
<line x1="244.9" y1="232.7" x2="244.9" y2="234.3" stroke="#222" stroke-width="0.55"/>
<line x1="250.2" y1="232.7" x2="250.2" y2="234.3" stroke="#222" stroke-width="0.55"/>
<line x1="255.5" y1="232.7" x2="255.5" y2="234.3" stroke="#222" stroke-width="0.55"/>
<line x1="260.8" y1="232.7" x2="260.8" y2="234.3" stroke="#222" stroke-width="0.55"/>
<line x1="266.1" y1="232.7" x2="266.1" y2="234.3" stroke="#222" stroke-width="0.55"/>
<line x1="271.4" y1="232.7" x2="271.4" y2="234.3" stroke="#222" stroke-width="0.55"/>
<line x1="276.7" y1="232.7" x2="276.7" y2="234.3" stroke="#222" stroke-width="0.55"/>
<line x1="282.0" y1="232.7" x2="282.0" y2="234.3" stroke="#222" stroke-width="0.55"/>
<line x1="287.3" y1="232.7" x2="287.3" y2="234.3" stroke="#222" stroke-width="0.55"/>
<line x1="292.6" y1="232.7" x2="292.6" y2="234.3" stroke="#222" stroke-width="0.55"/>
<line x1="298.0" y1="232.7" x2="298.0" y2="234.3" stroke="#222" stroke-width="0.55"/>
<line x1="303.3" y1="232.7" x2="303.3" y2="234.3" stroke="#222" stroke-width="0.55"/>
<line x1="308.6" y1="232.7" x2="308.6" y2="234.3" stroke="#222" stroke-width="0.55"/>
<line x1="313.9" y1="232.7" x2="313.9" y2="234.3" stroke="#222" stroke-width="0.55"/>
<line x1="319.2" y1="232.7" x2="319.2" y2="234.3" stroke="#222" stroke-width="0.55"/>
<line x1="324.5" y1="232.7" x2="324.5" y2="234.3" stroke="#222" stroke-width="0.55"/>
<text transform="translate(213.7 241.2) scale(0.9 1)" font-size="6.83" text-anchor="middle" fill="#1a1a1a">12000</text>
<text transform="translate(234.94 241.2) scale(0.9 1)" font-size="6.83" text-anchor="middle" fill="#1a1a1a">10000</text>
<text transform="translate(256.18 241.2) scale(0.9 1)" font-size="6.83" text-anchor="middle" fill="#1a1a1a">8000</text>
<text transform="translate(277.41999999999996 241.2) scale(0.9 1)" font-size="6.83" text-anchor="middle" fill="#1a1a1a">6000</text>
<text transform="translate(298.65999999999997 241.2) scale(0.9 1)" font-size="6.83" text-anchor="middle" fill="#1a1a1a">4000</text>
<text transform="translate(319.9 241.2) scale(0.9 1)" font-size="6.83" text-anchor="middle" fill="#1a1a1a">2000</text>
<text transform="translate(269 249.3) scale(0.9 1)" font-size="6.16" text-anchor="middle" fill="#1a1a1a">cal yr BP</text>
<text transform="translate(5.0 31.25) rotate(-90) scale(1 1.06)" font-size="5.75" text-anchor="middle" fill="#1a1a1a">Human</text>
<text transform="translate(10.9 31.25) rotate(-90) scale(1 1.06)" font-size="5.80" text-anchor="middle" fill="#1a1a1a">population size</text>
<text transform="translate(23.9 47) rotate(-90) scale(1 1.06)" font-size="6.00" text-anchor="start" fill="#1a1a1a">No. of sites</text>
<line x1="14.8" y1="16.8" x2="14.8" y2="45.6" stroke="#222" stroke-width="0.75"/>
<polygon points="12.70,19.00 16.90,19.00 14.80,14.80" fill="#111"/>
<polygon points="12.70,43.40 16.90,43.40 14.80,47.60" fill="#111"/>
<line x1="13.8" y1="12.2" x2="15.8" y2="12.2" stroke="#333" stroke-width="0.7"/>
<line x1="14.8" y1="11.2" x2="14.8" y2="13.2" stroke="#333" stroke-width="0.7"/>
<line x1="13.700000000000001" y1="51.3" x2="15.9" y2="51.3" stroke="#333" stroke-width="0.6"/>
<line x1="14.8" y1="62.8" x2="14.8" y2="184.6" stroke="#222" stroke-width="0.75"/>
<polygon points="12.70,65.00 16.90,65.00 14.80,60.80" fill="#111"/>
<polygon points="12.70,182.40 16.90,182.40 14.80,186.60" fill="#111"/>
<line x1="13.8" y1="57.2" x2="15.8" y2="57.2" stroke="#333" stroke-width="0.7"/>
<line x1="14.8" y1="56.2" x2="14.8" y2="58.2" stroke="#333" stroke-width="0.7"/>
<line x1="13.700000000000001" y1="189.1" x2="15.9" y2="189.1" stroke="#333" stroke-width="0.6"/>
<line x1="14.8" y1="204.4" x2="14.8" y2="230" stroke="#222" stroke-width="0.75"/>
<polygon points="12.70,206.60 16.90,206.60 14.80,202.40" fill="#111"/>
<polygon points="12.70,227.80 16.90,227.80 14.80,232.00" fill="#111"/>
<line x1="13.8" y1="199.1" x2="15.8" y2="199.1" stroke="#333" stroke-width="0.7"/>
<line x1="14.8" y1="198.1" x2="14.8" y2="200.1" stroke="#333" stroke-width="0.7"/>
<line x1="13.700000000000001" y1="235.1" x2="15.9" y2="235.1" stroke="#333" stroke-width="0.6"/>
<text transform="translate(11.5 155) rotate(-90) scale(1 1.06)" font-size="5.90" text-anchor="start" fill="#1a1a1a">Environmental productivity</text>
<text transform="translate(24 130.3) rotate(-90) scale(1 1.06)" font-size="6.00" text-anchor="start" fill="#1a1a1a">Growing season</text>
<text transform="translate(30.3 135) rotate(-90) scale(1 1.06)" font-size="6.00" text-anchor="start" fill="#1a1a1a">intensity (Rel. units)</text>
<text transform="translate(25 201.8) rotate(-90) scale(1 1.06)" font-size="5.85" text-anchor="start" fill="#1a1a1a">Baltic salinity (‰)</text>
<text transform="translate(11.2 242.7) rotate(-90) scale(1 1.06)" font-size="6.00" text-anchor="start" fill="#1a1a1a">Marine resource use</text>
<line x1="209" y1="14.1" x2="209" y2="47.699999999999996" stroke="#222" stroke-width="0.8"/>
<line x1="207.5" y1="14.4" x2="209" y2="14.4" stroke="#222" stroke-width="0.7"/>
<text transform="translate(206.8 16.4) scale(0.9 1)" font-size="6.94" text-anchor="end" fill="#1a1a1a">0.0004</text>
<line x1="207.5" y1="22.65" x2="209" y2="22.65" stroke="#222" stroke-width="0.7"/>
<text transform="translate(206.8 24.65) scale(0.9 1)" font-size="6.94" text-anchor="end" fill="#1a1a1a">0.0003</text>
<line x1="207.5" y1="30.9" x2="209" y2="30.9" stroke="#222" stroke-width="0.7"/>
<text transform="translate(206.8 32.9) scale(0.9 1)" font-size="6.94" text-anchor="end" fill="#1a1a1a">0.0002</text>
<line x1="207.5" y1="39.15" x2="209" y2="39.15" stroke="#222" stroke-width="0.7"/>
<text transform="translate(206.8 41.15) scale(0.9 1)" font-size="6.94" text-anchor="end" fill="#1a1a1a">0.0001</text>
<line x1="207.5" y1="47.4" x2="209" y2="47.4" stroke="#222" stroke-width="0.7"/>
<text transform="translate(206.8 49.4) scale(0.9 1)" font-size="6.94" text-anchor="end" fill="#1a1a1a">0</text>
<text transform="translate(210.6 17) scale(0.9 1)" font-size="7.62" text-anchor="start" fill="#1a1a1a">g</text>
<text transform="translate(182.3 45.5) rotate(-90) scale(1 1.06)" font-size="6.00" text-anchor="start" fill="#1a1a1a">Sum. prob.</text>
<polygon points="212.9,47.2 214.3,46.9 222.9,46.6 223.6,45.4 225.7,45.9 227.9,45.9 229.3,44.9 230.7,46.3 233.6,46.9 237.9,46.9 240.0,46.6 242.1,45.9 243.6,44.9 245.0,44.0 246.4,45.1 247.9,43.7 249.7,42.0 251.1,42.6 252.9,43.7 254.3,44.4 255.0,44.6 256.9,37.5 258.5,38.3 259.8,41.5 261.7,39.1 263.8,36.7 264.9,39.1 266.5,42.3 267.7,39.9 269.3,40.7 270.6,33.5 271.7,35.9 272.8,33.5 274.4,27.1 275.4,31.1 276.5,31.9 278.6,18.4 279.7,23.9 281.3,22.4 282.4,29.5 283.7,35.9 285.3,38.3 286.8,39.1 288.8,38.3 290.0,35.1 291.6,37.5 293.2,32.7 294.5,36.7 296.4,39.1 298.8,37.5 301.2,34.3 302.8,31.9 304.4,35.9 306.4,35.9 308.4,37.6 310.1,39.8 312.6,39.3 314.3,40.1 316.5,27.6 318.8,30.1 321.0,33.4 322.6,35.1 323.8,34.2 324.8,15.9 325.5,47.1 325.5,47.3 212.9,47.3" fill="#000" fill-opacity="0.52"/>
<polyline points="212.9,47.2 214.3,46.9 222.9,46.6 223.6,45.4 225.7,45.9 227.9,45.9 229.3,44.9 230.7,46.3 233.6,46.9 237.9,46.9 240.0,46.6 242.1,45.9 243.6,44.9 245.0,44.0 246.4,45.1 247.9,43.7 249.7,42.0 251.1,42.6 252.9,43.7 254.3,44.4 255.0,44.6 256.9,37.5 258.5,38.3 259.8,41.5 261.7,39.1 263.8,36.7 264.9,39.1 266.5,42.3 267.7,39.9 269.3,40.7 270.6,33.5 271.7,35.9 272.8,33.5 274.4,27.1 275.4,31.1 276.5,31.9 278.6,18.4 279.7,23.9 281.3,22.4 282.4,29.5 283.7,35.9 285.3,38.3 286.8,39.1 288.8,38.3 290.0,35.1 291.6,37.5 293.2,32.7 294.5,36.7 296.4,39.1 298.8,37.5 301.2,34.3 302.8,31.9 304.4,35.9 306.4,35.9 308.4,37.6 310.1,39.8 312.6,39.3 314.3,40.1 316.5,27.6 318.8,30.1 321.0,33.4 322.6,35.1 323.8,34.2 324.8,15.9 325.5,47.1" fill="none" stroke="#111" stroke-width="0.8"/>
<line x1="213.50" y1="48.2" x2="213.50" y2="49.5" stroke="#555" stroke-width="0.5"/>
<line x1="217.03" y1="48.2" x2="217.03" y2="49.5" stroke="#555" stroke-width="0.5"/>
<line x1="220.56" y1="48.2" x2="220.56" y2="49.5" stroke="#555" stroke-width="0.5"/>
<line x1="224.09" y1="48.2" x2="224.09" y2="49.5" stroke="#555" stroke-width="0.5"/>
<line x1="227.62" y1="48.2" x2="227.62" y2="49.5" stroke="#555" stroke-width="0.5"/>
<line x1="231.15" y1="48.2" x2="231.15" y2="49.5" stroke="#555" stroke-width="0.5"/>
<line x1="234.68" y1="48.2" x2="234.68" y2="49.5" stroke="#555" stroke-width="0.5"/>
<line x1="238.21" y1="48.2" x2="238.21" y2="49.5" stroke="#555" stroke-width="0.5"/>
<line x1="241.74" y1="48.2" x2="241.74" y2="49.5" stroke="#555" stroke-width="0.5"/>
<line x1="245.27" y1="48.2" x2="245.27" y2="49.5" stroke="#555" stroke-width="0.5"/>
<line x1="248.80" y1="48.2" x2="248.80" y2="49.5" stroke="#555" stroke-width="0.5"/>
<line x1="252.33" y1="48.2" x2="252.33" y2="49.5" stroke="#555" stroke-width="0.5"/>
<line x1="255.86" y1="48.2" x2="255.86" y2="49.5" stroke="#555" stroke-width="0.5"/>
<line x1="259.39" y1="48.2" x2="259.39" y2="49.5" stroke="#555" stroke-width="0.5"/>
<line x1="262.92" y1="48.2" x2="262.92" y2="49.5" stroke="#555" stroke-width="0.5"/>
<line x1="266.45" y1="48.2" x2="266.45" y2="49.5" stroke="#555" stroke-width="0.5"/>
<line x1="269.98" y1="48.2" x2="269.98" y2="49.5" stroke="#555" stroke-width="0.5"/>
<line x1="273.51" y1="48.2" x2="273.51" y2="49.5" stroke="#555" stroke-width="0.5"/>
<line x1="277.04" y1="48.2" x2="277.04" y2="49.5" stroke="#555" stroke-width="0.5"/>
<line x1="280.57" y1="48.2" x2="280.57" y2="49.5" stroke="#555" stroke-width="0.5"/>
<line x1="284.10" y1="48.2" x2="284.10" y2="49.5" stroke="#555" stroke-width="0.5"/>
<line x1="287.63" y1="48.2" x2="287.63" y2="49.5" stroke="#555" stroke-width="0.5"/>
<line x1="291.16" y1="48.2" x2="291.16" y2="49.5" stroke="#555" stroke-width="0.5"/>
<line x1="294.69" y1="48.2" x2="294.69" y2="49.5" stroke="#555" stroke-width="0.5"/>
<line x1="298.22" y1="48.2" x2="298.22" y2="49.5" stroke="#555" stroke-width="0.5"/>
<line x1="301.75" y1="48.2" x2="301.75" y2="49.5" stroke="#555" stroke-width="0.5"/>
<line x1="305.28" y1="48.2" x2="305.28" y2="49.5" stroke="#555" stroke-width="0.5"/>
<line x1="308.81" y1="48.2" x2="308.81" y2="49.5" stroke="#555" stroke-width="0.5"/>
<line x1="312.34" y1="48.2" x2="312.34" y2="49.5" stroke="#555" stroke-width="0.5"/>
<line x1="315.87" y1="48.2" x2="315.87" y2="49.5" stroke="#555" stroke-width="0.5"/>
<line x1="319.40" y1="48.2" x2="319.40" y2="49.5" stroke="#555" stroke-width="0.5"/>
<line x1="322.93" y1="48.2" x2="322.93" y2="49.5" stroke="#555" stroke-width="0.5"/>
<line x1="326.46" y1="48.2" x2="326.46" y2="49.5" stroke="#555" stroke-width="0.5"/>
<line x1="330.5" y1="61.300000000000004" x2="330.5" y2="88.5" stroke="#222" stroke-width="0.8"/>
<line x1="330.5" y1="61.6" x2="332.0" y2="61.6" stroke="#222" stroke-width="0.7"/>
<text transform="translate(333.3 63.6) scale(0.9 1)" font-size="6.27" text-anchor="start" fill="#1a1a1a">80</text>
<line x1="330.5" y1="70.46666666666667" x2="332.0" y2="70.46666666666667" stroke="#222" stroke-width="0.7"/>
<text transform="translate(333.3 72.46666666666667) scale(0.9 1)" font-size="6.27" text-anchor="start" fill="#1a1a1a">60</text>
<line x1="330.5" y1="79.33333333333334" x2="332.0" y2="79.33333333333334" stroke="#222" stroke-width="0.7"/>
<text transform="translate(333.3 81.33333333333334) scale(0.9 1)" font-size="6.27" text-anchor="start" fill="#1a1a1a">40</text>
<line x1="330.5" y1="88.2" x2="332.0" y2="88.2" stroke="#222" stroke-width="0.7"/>
<text transform="translate(333.3 90.2) scale(0.9 1)" font-size="6.27" text-anchor="start" fill="#1a1a1a">20</text>
<text transform="translate(211 63) scale(0.9 1)" font-size="6.94" text-anchor="start" fill="#1a1a1a">h</text>
<text transform="translate(343.5 50.5) rotate(90) scale(1 1.06)" font-size="6.00" text-anchor="start" fill="#1a1a1a">Humification index</text>
<polyline points="248.0,77.0 249.3,75.0 250.6,75.4 251.9,73.7 253.2,71.7 254.5,69.8 255.8,70.4 257.2,69.1 258.5,70.4 259.8,68.4 261.1,69.1 262.4,65.2 263.7,61.9 265.0,59.2 266.1,59.9 267.0,69.1 267.7,77.0 268.3,78.3 269.3,71.7 270.3,65.2 271.6,63.2 272.7,64.5 273.6,67.8 274.9,69.8 276.2,71.7 277.6,69.1 278.9,67.8 280.2,69.1 282.2,70.4 284.1,71.1 285.4,71.7 286.8,73.0 288.1,71.6 289.6,73.0 291.0,71.6 292.0,73.8 292.9,88.5 293.9,87.0 294.9,70.9 296.3,72.3 297.5,71.6 298.6,81.3 299.6,87.7 300.3,73.8 301.5,89.9 302.5,85.6 303.5,91.3 304.3,88.5 305.3,90.6 306.8,87.0 308.2,75.2 309.2,71.6 310.1,87.0 311.1,73.8 311.8,85.6 313.0,73.0 313.9,84.9 315.4,75.2 316.4,83.4 317.8,76.6 319.2,84.9 320.4,78.1 321.8,83.4 323.0,82.0 324.0,87.0 325.0,81.3 326.1,87.7 326.8,76.6 327.8,84.9 328.6,81.8" fill="none" stroke="#8c3f9e" stroke-width="1.25"/>
<line x1="208.5" y1="91.9" x2="208.5" y2="123.7" stroke="#222" stroke-width="0.8"/>
<line x1="207.0" y1="92.2" x2="208.5" y2="92.2" stroke="#222" stroke-width="0.7"/>
<text transform="translate(206.3 94.2) scale(0.9 1)" font-size="6.94" text-anchor="end" fill="#1a1a1a">13</text>
<line x1="207.0" y1="100.0" x2="208.5" y2="100.0" stroke="#222" stroke-width="0.7"/>
<text transform="translate(206.3 102.0) scale(0.9 1)" font-size="6.94" text-anchor="end" fill="#1a1a1a">12</text>
<line x1="207.0" y1="107.80000000000001" x2="208.5" y2="107.80000000000001" stroke="#222" stroke-width="0.7"/>
<text transform="translate(206.3 109.80000000000001) scale(0.9 1)" font-size="6.94" text-anchor="end" fill="#1a1a1a">11</text>
<line x1="207.0" y1="115.60000000000001" x2="208.5" y2="115.60000000000001" stroke="#222" stroke-width="0.7"/>
<text transform="translate(206.3 117.60000000000001) scale(0.9 1)" font-size="6.94" text-anchor="end" fill="#1a1a1a">10</text>
<line x1="207.0" y1="123.4" x2="208.5" y2="123.4" stroke="#222" stroke-width="0.7"/>
<text transform="translate(206.3 125.4) scale(0.9 1)" font-size="6.94" text-anchor="end" fill="#1a1a1a">9</text>
<text transform="translate(211.5 98) scale(0.9 1)" font-size="6.94" text-anchor="start" fill="#1a1a1a">i</text>
<text transform="translate(194.8 134) rotate(-90) scale(1 1.06)" font-size="6.00" text-anchor="start" fill="#1a1a1a">N. Atlantic SST (°C)</text>
<polyline points="214.4,124.4 215.6,115.0 217.0,111.5 217.8,110.7 218.7,102.1 220.4,98.7 221.8,96.1 223.0,98.7 224.2,101.3 225.5,97.8 226.9,103.0 228.6,107.3 230.3,102.1 232.1,103.0 233.8,101.3 235.5,99.6 237.2,100.4 239.2,101.3 241.8,103.0 244.0,103.0 246.1,105.5 247.8,106.4 249.9,102.1 251.6,99.6 252.9,92.7 254.3,91.8 255.0,93.6 256.0,95.0 257.1,97.9 258.5,98.0 260.4,98.3 262.0,97.5 263.6,96.8 265.3,93.6 266.5,94.5 267.9,94.0 269.0,95.2 270.4,94.6 271.8,93.5 273.2,93.1 274.3,94.8 275.4,94.6 276.5,93.0 277.5,92.5 278.2,94.5 279.0,94.6 280.7,96.8 281.8,98.5 282.9,100.4 284.0,98.8 285.0,98.3 286.5,99.5 288.2,99.6 289.5,98.8 290.5,100.3 292.5,100.0 294.0,99.2 295.2,100.5 296.8,100.0 297.8,98.8 298.9,98.3 300.0,99.5 301.1,100.0 302.2,99.0 303.9,101.7 305.5,100.5 307.5,101.1 309.0,100.2 311.1,101.1 312.9,106.4 313.5,104.0 314.6,108.6 315.3,105.0 316.1,105.4 317.0,107.5 318.2,106.4 319.2,104.5 320.4,105.4 321.5,107.0 322.5,106.4 323.5,105.2 324.6,106.0" fill="none" stroke="#46a046" stroke-width="0.9"/>
<line x1="329.6" y1="124.9" x2="329.6" y2="154.9" stroke="#222" stroke-width="0.8"/>
<line x1="329.6" y1="125.2" x2="331.1" y2="125.2" stroke="#222" stroke-width="0.7"/>
<text transform="translate(332.40000000000003 127.2) scale(0.9 1)" font-size="6.50" text-anchor="start" fill="#1a1a1a">11</text>
<line x1="329.6" y1="131.08" x2="331.1" y2="131.08" stroke="#222" stroke-width="0.7"/>
<text transform="translate(332.40000000000003 133.08) scale(0.9 1)" font-size="6.50" text-anchor="start" fill="#1a1a1a">10</text>
<line x1="329.6" y1="136.96" x2="331.1" y2="136.96" stroke="#222" stroke-width="0.7"/>
<text transform="translate(332.40000000000003 138.96) scale(0.9 1)" font-size="6.50" text-anchor="start" fill="#1a1a1a">9</text>
<line x1="329.6" y1="142.84" x2="331.1" y2="142.84" stroke="#222" stroke-width="0.7"/>
<text transform="translate(332.40000000000003 144.84) scale(0.9 1)" font-size="6.50" text-anchor="start" fill="#1a1a1a">8</text>
<line x1="329.6" y1="148.72" x2="331.1" y2="148.72" stroke="#222" stroke-width="0.7"/>
<text transform="translate(332.40000000000003 150.72) scale(0.9 1)" font-size="6.50" text-anchor="start" fill="#1a1a1a">7</text>
<line x1="329.6" y1="154.6" x2="331.1" y2="154.6" stroke="#222" stroke-width="0.7"/>
<text transform="translate(332.40000000000003 156.6) scale(0.9 1)" font-size="6.50" text-anchor="start" fill="#1a1a1a">6</text>
<text transform="translate(211 133) scale(0.9 1)" font-size="6.94" text-anchor="start" fill="#1a1a1a">j</text>
<text transform="translate(343.5 122) rotate(90) scale(1 1.06)" font-size="6.00" text-anchor="start" fill="#1a1a1a">Fjord BWT (°C)</text>
<polyline points="256.8,129.2 258.5,134.6 259.7,138.2 260.9,135.8 262.1,137.0 263.4,133.4 265.1,136.5 267.0,130.9 268.9,132.1 270.6,129.7 272.3,135.8 273.8,138.9 275.5,135.8 277.2,134.6 278.2,131.0 278.7,128.5 279.3,125.5 279.8,130.0 280.3,127.5 281.1,133.4 282.8,137.0 284.0,136.2 285.2,136.5 286.8,137.8 288.4,137.5 290.1,139.4 291.5,137.5 292.5,136.5 294.2,141.9 295.8,143.0 297.4,144.3 299.8,141.9 301.0,140.2 302.2,139.4 304.6,141.9 306.5,142.8 308.3,144.3 310.5,145.0 312.7,145.5 314.5,146.5 316.1,147.9 317.6,149.0 319.2,150.4 320.2,147.0 320.9,141.9 321.2,148.0 321.4,155.2 321.8,150.0 322.4,147.9 323.2,150.5 324.1,151.1" fill="none" stroke="#cf3d3d" stroke-width="0.95"/>
<line x1="208" y1="163.5" x2="208" y2="193.0" stroke="#222" stroke-width="0.8"/>
<line x1="206.5" y1="163.8" x2="208" y2="163.8" stroke="#222" stroke-width="0.7"/>
<text transform="translate(205.8 165.8) scale(0.9 1)" font-size="6.27" text-anchor="end" fill="#1a1a1a">18</text>
<line x1="206.5" y1="171.025" x2="208" y2="171.025" stroke="#222" stroke-width="0.7"/>
<text transform="translate(205.8 173.025) scale(0.9 1)" font-size="6.27" text-anchor="end" fill="#1a1a1a">16</text>
<line x1="206.5" y1="178.25" x2="208" y2="178.25" stroke="#222" stroke-width="0.7"/>
<text transform="translate(205.8 180.25) scale(0.9 1)" font-size="6.27" text-anchor="end" fill="#1a1a1a">14</text>
<line x1="206.5" y1="185.475" x2="208" y2="185.475" stroke="#222" stroke-width="0.7"/>
<text transform="translate(205.8 187.475) scale(0.9 1)" font-size="6.27" text-anchor="end" fill="#1a1a1a">12</text>
<line x1="206.5" y1="192.7" x2="208" y2="192.7" stroke="#222" stroke-width="0.7"/>
<text transform="translate(205.8 194.7) scale(0.9 1)" font-size="6.27" text-anchor="end" fill="#1a1a1a">10</text>
<text transform="translate(211.5 166) scale(0.9 1)" font-size="6.94" text-anchor="start" fill="#1a1a1a">k</text>
<text transform="translate(195.5 207) rotate(-90) scale(1 1.06)" font-size="6.00" text-anchor="start" fill="#1a1a1a">Fjord carbonate (%)</text>
<polyline points="255.0,194.6 256.9,193.4 259.1,192.3 260.3,193.4 261.0,187.7 261.9,172.9 262.6,175.5 263.3,172.9 264.2,175.1 265.5,171.7 266.6,172.5 267.8,170.6 269.0,171.0 270.6,168.3 271.5,169.2 272.4,166.7 273.2,168.5 274.0,168.3 275.6,166.0 276.8,167.8 277.9,167.1 279.0,165.5 279.7,163.7 281.0,165.2 282.0,164.4 283.2,164.0 284.3,163.0 285.2,164.5 286.1,166.0 287.2,166.5 288.4,168.3 289.6,166.8 290.7,167.1 291.5,169.0 292.3,171.7 293.2,168.0 293.9,164.9 294.8,167.5 295.7,169.4 296.8,169.0 298.0,170.6 299.3,169.5 300.7,171.7 302.0,171.0 303.0,172.9 303.8,170.5 304.4,168.3 304.9,173.0 305.3,176.3 306.2,175.8 307.1,177.4 308.8,176.8 310.6,178.1 312.2,177.2 314.0,177.4 315.2,178.5 316.3,178.1 317.0,183.0 317.4,187.7 318.2,186.2 319.0,186.6 320.0,185.5 320.9,176.3 321.1,183.0 321.3,191.1 322.0,187.0 322.7,185.4 323.6,186.6" fill="none" stroke="#2228c4" stroke-width="1.1"/>
<line x1="329.5" y1="201.5" x2="329.5" y2="231.9" stroke="#222" stroke-width="0.8"/>
<line x1="329.5" y1="201.8" x2="331.0" y2="201.8" stroke="#222" stroke-width="0.7"/>
<text transform="translate(332.3 203.8) scale(0.9 1)" font-size="6.94" text-anchor="start" fill="#1a1a1a">60</text>
<line x1="329.5" y1="211.73333333333335" x2="331.0" y2="211.73333333333335" stroke="#222" stroke-width="0.7"/>
<text transform="translate(332.3 213.73333333333335) scale(0.9 1)" font-size="6.94" text-anchor="start" fill="#1a1a1a">40</text>
<line x1="329.5" y1="221.66666666666666" x2="331.0" y2="221.66666666666666" stroke="#222" stroke-width="0.7"/>
<text transform="translate(332.3 223.66666666666666) scale(0.9 1)" font-size="6.94" text-anchor="start" fill="#1a1a1a">20</text>
<line x1="329.5" y1="231.6" x2="331.0" y2="231.6" stroke="#222" stroke-width="0.7"/>
<text transform="translate(332.3 233.6) scale(0.9 1)" font-size="6.94" text-anchor="start" fill="#1a1a1a">0</text>
<text transform="translate(211 206) scale(0.9 1)" font-size="6.94" text-anchor="start" fill="#1a1a1a">l</text>
<text transform="translate(344.5 193) rotate(90) scale(1 1.06)" font-size="6.00" text-anchor="start" fill="#1a1a1a">Slate artifacts (%)</text>
<polyline points="227.0,231.5 242.8,231.5 258.8,229.5 272.0,208.0 280.3,198.5 291.0,216.5 304.3,212.8 315.0,229.5" fill="none" stroke="#111" stroke-width="0.8"/>
<polygon points="225.0,233.3 229.0,233.3 227.0,229.7" fill="#111"/>
<polygon points="240.8,233.3 244.8,233.3 242.8,229.7" fill="#111"/>
<polygon points="256.8,231.3 260.8,231.3 258.8,227.7" fill="#111"/>
<polygon points="270.0,209.8 274.0,209.8 272.0,206.2" fill="#111"/>
<polygon points="278.3,200.3 282.3,200.3 280.3,196.7" fill="#111"/>
<polygon points="289.0,218.3 293.0,218.3 291.0,214.7" fill="#111"/>
<polygon points="302.3,214.6 306.3,214.6 304.3,211.0" fill="#111"/>
<polygon points="313.0,231.3 317.0,231.3 315.0,227.7" fill="#111"/>
</svg></body></html>
